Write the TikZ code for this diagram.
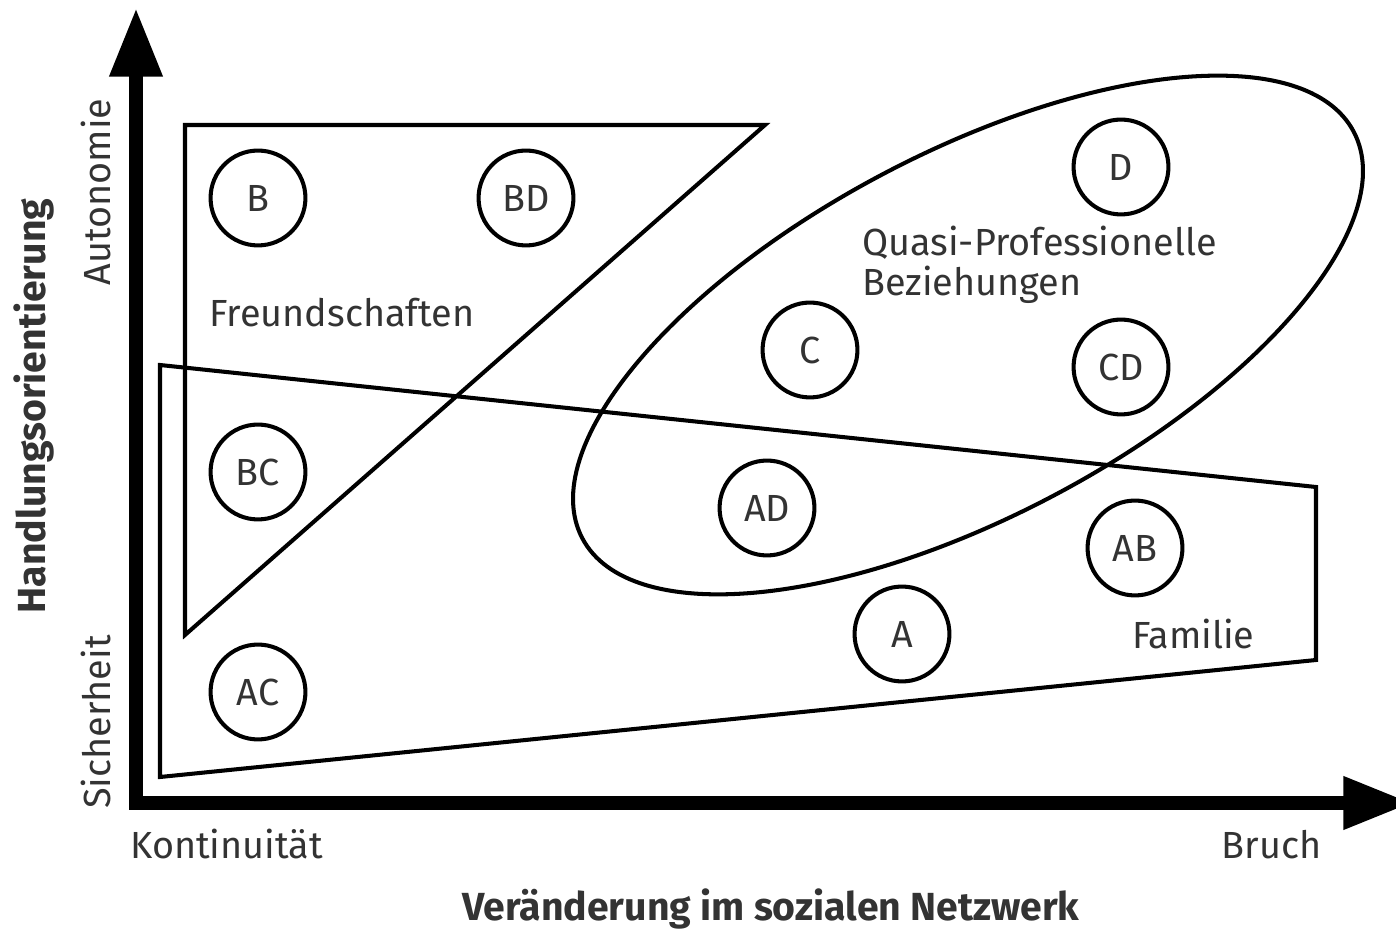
\documentclass[tikz,border=0pt]{standalone}
\usepackage{fontspec}
\setmainfont{Fira Sans}
\usepackage{tikz}
\usetikzlibrary{arrows.meta}
\definecolor{labelgray}{HTML}{333333}

\tikzset{
  pers/.style={circle, draw, line width=2.3pt, minimum size=54pt, inner sep=0pt, text=labelgray},
  rgn/.style={line width=2.3pt, line join=miter},
  lbl/.style={text=labelgray, inner sep=0pt},
  axlbl/.style={text=labelgray, inner sep=0pt, font=\bfseries\fontsize{22.3}{26}\selectfont}
}

\begin{document}
\begin{tikzpicture}[x=0.02cm, y=0.02cm, font=\fontsize{21.5}{23.2}\selectfont]
			\useasboundingbox (0, 0) rectangle (1396, 930);
			% achsen
			\coordinate (ytip) at (136, 922);
			\coordinate (xtip) at (1412, 127);
			\draw[line width=7.6pt, {Triangle[length=39pt, width=28.4pt]}-{Triangle[length=39pt, width=28.4pt]}] (ytip) |- (xtip);
			% bereiche
			\draw[rgn] (185, 805) -- (765, 805) -- (185, 295) -- cycle;
			\draw[rgn] (160, 565) -- (1316, 443) -- (1316, 270) -- (160, 153) -- cycle;
			\draw[rgn] (968, 595) ellipse[x radius=436, y radius=182, rotate=27.8];
			% personen
			\node[pers] (b) at (258, 732) {B};
			\node[pers] (bd) at (526, 732) {BD};
			\node[pers] (d) at (1121, 763) {D};
			\node[pers] (c) at (810, 580) {C};
			\node[pers] (cd) at (1121, 563) {CD};
			\node[pers] (bc) at (258, 458) {BC};
			\node[pers] (ad) at (767, 422) {AD};
			\node[pers] (ab) at (1135, 382) {AB};
			\node[pers] (a) at (902, 296) {A};
			\node[pers] (ac) at (258, 238) {AC};
			% beschriftung
			\node[lbl, anchor=base west] (freund) at (209, 603) {Freundschaften};
			\node[lbl, anchor=base west, align=left] (quasi) at (862, 634) {Quasi-Professionelle\\Beziehungen};
			\node[lbl, anchor=base west] (fam) at (1132, 281) {Familie};
			\node[lbl, anchor=base west] (kont) at (130, 72) {Kontinuität};
			\node[lbl, anchor=base east] (bruch) at (1322, 72) {Bruch};
			\node[lbl, anchor=base, rotate=90] (auto) at (110, 738) {Autonomie};
			\node[lbl, anchor=base, rotate=90] (sich) at (110, 208) {Sicherheit};
			\node[axlbl, anchor=base] (xlab) at (771, 10) {Veränderung im sozialen Netzwerk};
			\node[axlbl, anchor=base, rotate=90] (ylab) at (45, 524) {Handlungsorientierung};
		\end{tikzpicture}
\end{document}
